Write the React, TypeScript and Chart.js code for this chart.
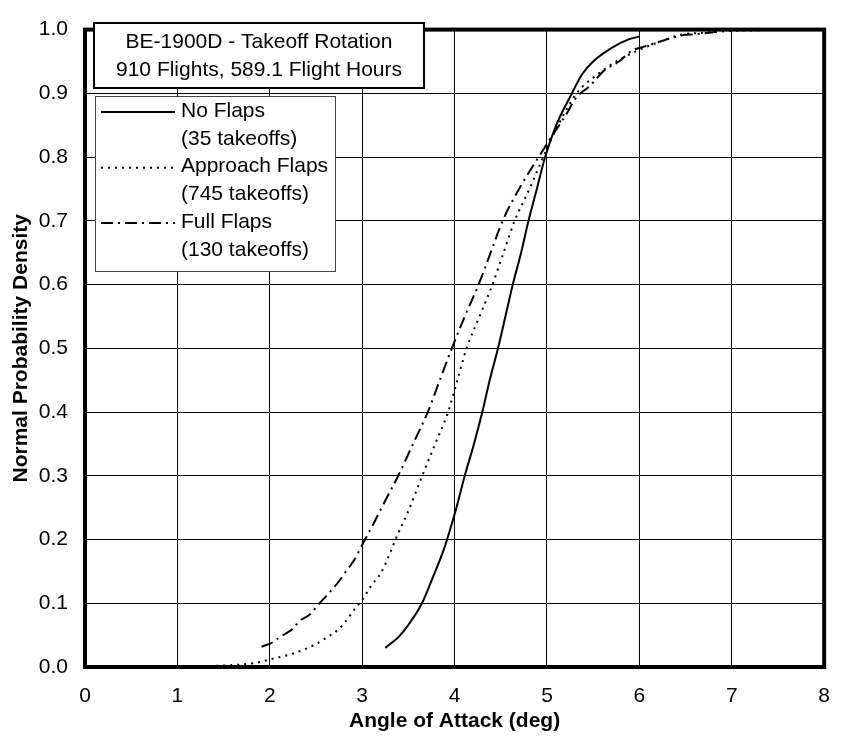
import React, { useEffect, useRef } from "react";
import { Chart, registerables } from "chart.js";

Chart.register(...registerables);

const noFlapsX = [3.25, 3.4, 3.49, 3.64, 3.76, 3.88, 3.95, 4.02, 4.11, 4.21, 4.3, 4.38, 4.47, 4.55, 4.63, 4.72, 4.8, 4.89, 4.98, 5.1, 5.27, 5.38, 5.5, 5.71, 5.89, 6.0];
const noFlapsY = [0.03, 0.048, 0.064, 0.098, 0.139, 0.183, 0.215, 0.25, 0.3, 0.35, 0.4, 0.45, 0.5, 0.55, 0.6, 0.65, 0.7, 0.75, 0.8, 0.85, 0.9, 0.93, 0.95, 0.972, 0.985, 0.989];

const approachX = [1.42, 1.7, 1.9, 2.0, 2.12, 2.25, 2.38, 2.5, 2.6, 2.75, 2.85, 2.93, 3.0, 3.1, 3.2, 3.3, 3.36, 3.5, 3.65, 3.79, 3.93, 4.03, 4.13, 4.27, 4.41, 4.53, 4.65, 4.81, 4.96, 5.12, 5.32, 5.55, 5.75, 5.98, 6.24, 6.45, 6.7, 7.0, 7.3];
const approachY = [0.002, 0.004, 0.008, 0.012, 0.016, 0.021, 0.028, 0.036, 0.045, 0.06, 0.077, 0.093, 0.105, 0.128, 0.147, 0.178, 0.2, 0.245, 0.3, 0.35, 0.4, 0.45, 0.5, 0.55, 0.6, 0.65, 0.7, 0.75, 0.8, 0.85, 0.9, 0.93, 0.95, 0.967, 0.982, 0.992, 0.995, 0.998, 0.999];

const fullX = [1.91, 2.02, 2.12, 2.25, 2.32, 2.43, 2.52, 2.62, 2.73, 2.82, 2.91, 3.03, 3.12, 3.21, 3.39, 3.55, 3.71, 3.84, 3.97, 4.11, 4.26, 4.39, 4.52, 4.73, 4.88, 5.05, 5.2, 5.32, 5.46, 5.62, 5.78, 5.92, 6.07, 6.24, 6.46, 6.63, 6.85];
const fullY = [0.032, 0.038, 0.048, 0.06, 0.072, 0.082, 0.097, 0.113, 0.131, 0.149, 0.167, 0.2, 0.224, 0.25, 0.3, 0.35, 0.4, 0.45, 0.5, 0.55, 0.6, 0.65, 0.7, 0.758, 0.793, 0.832, 0.865, 0.894, 0.911, 0.936, 0.95, 0.967, 0.974, 0.982, 0.991, 0.993, 0.997];

const seriesNames = ["No Flaps", "Approach Flaps", "Full Flaps"];
const seriesCounts = ["(35 takeoffs)", "(745 takeoffs)", "(130 takeoffs)"];
const titleLines = ["BE-1900D - Takeoff Rotation", "910 Flights, 589.1 Flight Hours"];
const xAxisTitle = "Angle of Attack (deg)";
const yAxisTitle = "Normal Probability Density";

const dashes: number[][] = [[], [2, 5], [12, 5, 2, 5]];
const FONT = '"Liberation Sans", Arial, sans-serif';

const toPoints = (xs: number[], ys: number[]) => xs.map((x, i) => ({ x, y: ys[i] }));

const overlayPlugin = {
  id: "overlay",
  afterDraw(chart: any) {
    const { ctx, chartArea } = chart;
    ctx.save();
    // frame
    ctx.strokeStyle = "#000";
    ctx.lineWidth = 4;
    ctx.setLineDash([]);
    ctx.strokeRect(chartArea.left, chartArea.top, chartArea.right - chartArea.left, chartArea.bottom - chartArea.top);

    // title box
    ctx.fillStyle = "#fff";
    ctx.fillRect(94, 23, 330, 65);
    ctx.lineWidth = 2;
    ctx.strokeRect(94, 23, 330, 65);
    ctx.fillStyle = "#000";
    ctx.font = `21px ${FONT}`;
    ctx.textAlign = "center";
    ctx.textBaseline = "middle";
    ctx.fillText(titleLines[0], 259, 42);
    ctx.fillText(titleLines[1], 259, 70);

    // legend box
    ctx.fillStyle = "#fff";
    ctx.fillRect(95.5, 96.5, 240, 175);
    ctx.strokeStyle = "#444";
    ctx.lineWidth = 1;
    ctx.strokeRect(95.5, 96.5, 240, 175);
    ctx.textAlign = "left";
    const rows = [111, 166.7, 222];
    for (let i = 0; i < 3; i++) {
      const y = rows[i];
      ctx.strokeStyle = "#000";
      ctx.lineWidth = 2;
      ctx.setLineDash(dashes[i]);
      ctx.beginPath();
      ctx.moveTo(101, y + 1);
      ctx.lineTo(175, y + 1);
      ctx.stroke();
      ctx.setLineDash([]);
      ctx.fillStyle = "#000";
      ctx.fillText(seriesNames[i], 181, y);
      ctx.fillText(seriesCounts[i], 181, y + 28);
    }
    ctx.restore();
  },
};

export default function App() {
  const ref = useRef<HTMLCanvasElement | null>(null);
  useEffect(() => {
    if (!ref.current) return;
    const data = [toPoints(noFlapsX, noFlapsY), toPoints(approachX, approachY), toPoints(fullX, fullY)];
    const chart = new Chart(ref.current, {
      type: "line",
      data: {
        datasets: data.map((d, i) => ({
          label: seriesNames[i],
          data: d,
          borderColor: "#000",
          borderWidth: 2,
          borderDash: dashes[i],
          pointRadius: 0,
          fill: false,
          cubicInterpolationMode: "monotone" as const,
        })),
      },
      options: {
        animation: false,
        responsive: true,
        maintainAspectRatio: false,
        layout: { padding: { left: 0, right: 12, top: 15, bottom: 0 } },
        plugins: { legend: { display: false }, tooltip: { enabled: false } },
        scales: {
          x: {
            type: "linear",
            min: 0,
            max: 8,
            ticks: { stepSize: 1, color: "#000", font: { family: FONT, size: 21 }, padding: 17 },
            grid: { color: "#000", lineWidth: 1, drawTicks: false },
            border: { display: false },
            title: { display: true, text: xAxisTitle, color: "#000", font: { family: FONT, size: 21, weight: "bold" }, padding: { top: 0, bottom: 6 } },
            afterFit: (s: any) => { s.height = 73; },
          },
          y: {
            type: "linear",
            min: 0,
            max: 1,
            ticks: { stepSize: 0.1, color: "#000", font: { family: FONT, size: 21 }, padding: 17, callback: (v: any) => Number(v).toFixed(1) },
            grid: { color: "#000", lineWidth: 1, drawTicks: false },
            border: { display: false },
            title: { display: true, text: yAxisTitle, color: "#000", font: { family: FONT, size: 21, weight: "bold" }, padding: { top: 9, bottom: 0 } },
            afterFit: (s: any) => { s.width = 85; },
          },
        },
      },
      plugins: [overlayPlugin],
    });
    return () => chart.destroy();
  }, []);
  return (
    <div style={{ position: "absolute", left: 0, top: 0, width: 847, height: 740, background: "#fff" }}>
      <canvas ref={ref} />
    </div>
  );
}
